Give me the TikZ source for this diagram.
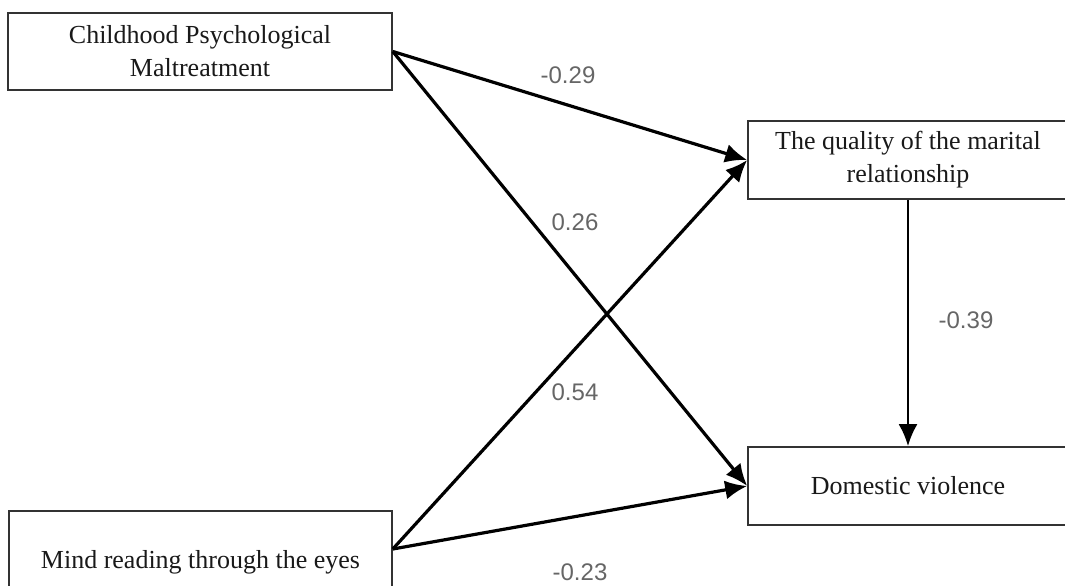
\documentclass[tikz,border=0pt]{standalone}
\usepackage{fontspec}
\setmainfont{Liberation Serif}
\newfontfamily\coeffont{Liberation Sans}
\usetikzlibrary{arrows.meta}
\tikzset{
	varbox/.style={draw=black!80, line width=1.6pt, fill=white, minimum height=78pt, inner sep=0pt, align=center, text=black!90, font=\fontsize{26}{33}\selectfont},
	effect/.style={line width=3.2pt, -{Latex[length=22pt,width=19pt]}},
	coef/.style={text=black!60, font=\coeffont\fontsize{24}{28}\selectfont}
}

\begin{document}
\begin{tikzpicture}[x=1pt,y=-1pt]
			%%%%% START %%%%%
			\useasboundingbox (0,0) rectangle (1065,586);
			\clip (0,0) rectangle (1065,586);
			
			\node[varbox, minimum width=384pt, minimum height=77pt] (cpm) at (200,51.5) {Childhood Psychological\\Maltreatment};
			\node[varbox, minimum width=320pt] (qual) at (908,160) {The quality of the marital\\relationship};
			\node[varbox, minimum width=320pt] (dv) at (908,486) {Domestic violence};
			\node[varbox, minimum width=383pt, minimum height=102pt] (mind) at (200.5,562) {Mind reading through the eyes};
			
			\coordinate (mindout) at ([yshift=13pt]mind.east);
			
			\draw[effect] (cpm.east) -- (qual.west);
			\draw[effect] (cpm.east) -- (dv.west);
			\draw[effect] (mindout) -- (qual.west);
			\draw[effect] (mindout) -- (dv.west);
			\draw[effect, line width=2.6pt] (qual.south) -- (dv.north);
			
			\node[coef] (cpmqual) at (568,75) {-0.29};
			\node[coef] (cpmdv) at (575,222) {0.26};
			\node[coef] (mindqual) at (575,392) {0.54};
			\node[coef] (minddv) at (580,572) {-0.23};
			\node[coef] (qualdv) at (966,320) {-0.39};
			
			%%%%% END %%%%%
\end{tikzpicture}
\end{document}
